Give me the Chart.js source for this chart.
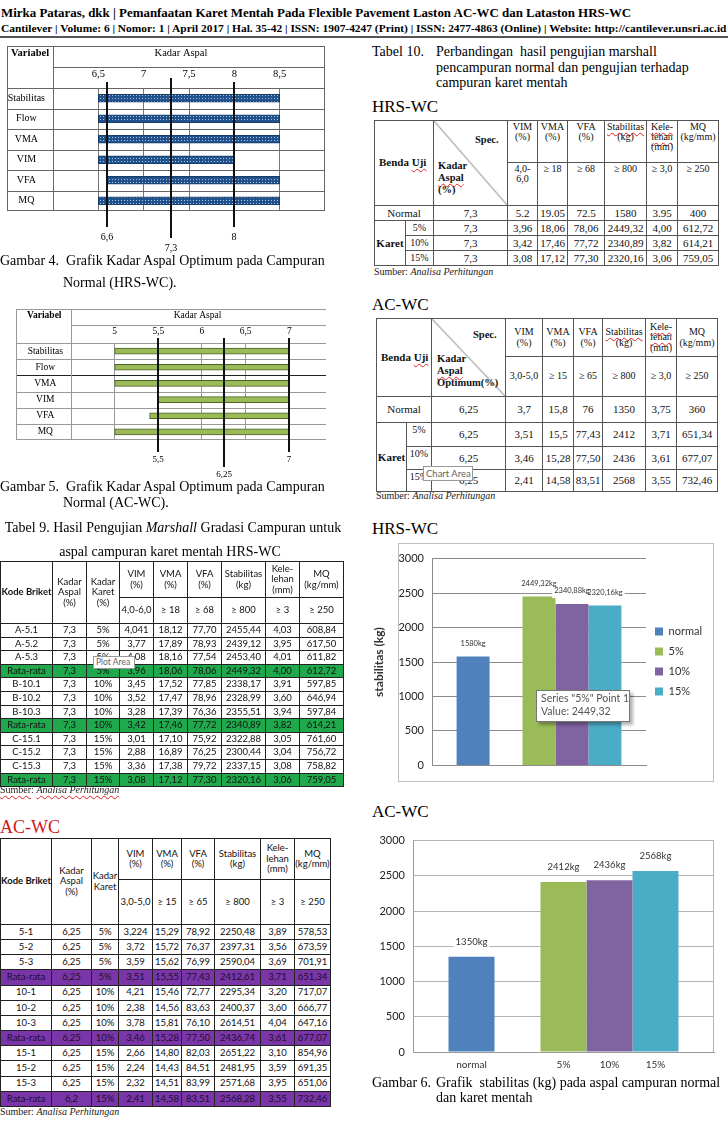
<!DOCTYPE html>
<html>
<head>
<meta charset="utf-8">
<script src="https://cdn.jsdelivr.net/npm/chart.js@4.4.1/dist/chart.umd.min.js"></script>
<style>
  body { margin: 0; background: #fff; }
  #page { position: relative; width: 728px; height: 1140px; overflow: hidden; font-family: "Liberation Serif", "Times New Roman", serif; color: #000; }
  .abs { position: absolute; }
  .txt { position: absolute; white-space: nowrap; }
  .hdr { position: absolute; left: 1px; white-space: nowrap; font-weight: bold; transform-origin: 0 0; line-height: 1; }
  .cap { position: absolute; font-size: 14px; line-height: 16px; white-space: nowrap; }
  .head17 { position: absolute; font-size: 17px; line-height: 18px; white-space: nowrap; }
  .src { position: absolute; font-size: 10px; line-height: 12px; white-space: nowrap; color: #222; }
  .sp { text-decoration: underline wavy #d22; text-decoration-thickness: 1px; text-underline-offset: 2px; }
  canvas { position: absolute; }
  table.t { position: absolute; border-collapse: collapse; table-layout: fixed; }
  table.t td { border: 1px solid #222; padding: 0; text-align: center; vertical-align: middle; overflow: hidden; white-space: nowrap; line-height: 1.1; }
  table.sans { font-family: Lato, "Open Sans", sans-serif; font-size: 9.5px; color: #111; }
  table.serif { font-family: "Liberation Serif", serif; font-size: 11px; color: #111; }
  table.serif td { border-color: #555; }
  table.serif tr.hd td { font-size: 10px; line-height: 1.02; }
  table.t td.b { font-weight: bold; }
  table.t td.tp { vertical-align: top; padding-top: 1px; }
  table.t td.lf { text-align: left; padding-left: 4px; }
  tr.green td { background: #1fa84c; }
  tr.purple td { background: #7a36a8; color: #1a0f2a; }
  .diagcell { background: linear-gradient(to top right, transparent calc(50% - 0.7px), #666 50%, transparent calc(50% + 0.7px)); }
  .note { position: absolute; background: #fff; border: 1px solid #999; font-family: Lato, sans-serif; color: #666; white-space: nowrap; }
</style>
</head>
<body>
<div id="page">
  <div class="hdr" id="h1" style="top:6px;font-size:13px">Mirka Pataras, dkk | Pemanfaatan Karet Mentah Pada Flexible Pavement Laston AC-WC dan Lataston HRS-WC</div>
  <div class="hdr" id="h2" style="top:23px;font-size:11px">Cantilever | Volume: 6 | Nomor: 1 | April 2017 | Hal. 35-42 | ISSN: 1907-4247 (Print) | ISSN: 2477-4863 (Online) | Website: http://cantilever.unsri.ac.id</div>
  <div class="abs" style="left:0;top:36px;width:728px;height:2px;background:#555"></div>

  <!-- left column -->
  <canvas id="g4" width="332" height="212" style="left:0;top:46px"></canvas>
  <div class="cap" style="left:0;top:253px">Gambar 4.&nbsp; Grafik Kadar Aspal Optimum pada Campuran</div>
  <div class="cap" style="left:63px;top:275px">Normal (HRS-WC).</div>

  <canvas id="g5" width="332" height="170" style="left:0;top:309px"></canvas>
  <div class="cap" style="left:0;top:479px">Gambar 5.&nbsp; Grafik Kadar Aspal Optimum pada Campuran</div>
  <div class="cap" style="left:63px;top:495px">Normal (AC-WC).</div>

  <div class="cap" style="left:0;top:520px;width:346px;text-align:center">Tabel 9. Hasil Pengujian <i>Marshall</i> Gradasi Campuran untuk</div>
  <div class="cap" style="left:0;top:544px;width:340px;text-align:center">aspal campuran karet mentah HRS-WC</div>
  <table class="t sans" id="tab9" style="left:0;top:561px;width:343px"></table>
  <div class="src" style="left:0;top:784px"><span class="sp">Sumber</span>: <i class="sp">Analisa Perhitungan</i></div>
  <div class="note" style="left:93px;top:656px;width:38px;height:11px;font-size:8.5px;line-height:11px;padding-left:2px">Plot Area</div>

  <div class="txt" style="left:0;top:818px;font-size:18px;line-height:18px;color:#d01818">AC-WC</div>
  <table class="t sans" id="tabAc" style="left:0;top:838px;width:330px"></table>
  <div class="src" style="left:0;top:1106px">Sumber: <i>Analisa Perhitungan</i></div>

  <!-- right column -->
  <div class="cap" style="left:372px;top:44px">Tabel 10.</div>
  <div class="cap" style="left:436px;top:44px">Perbandingan&nbsp; hasil pengujian marshall</div>
  <div class="cap" style="left:436px;top:60px">pencampuran normal dan pengujian terhadap</div>
  <div class="cap" style="left:436px;top:75px">campuran karet mentah</div>
  <div class="head17" style="left:372px;top:98px">HRS-WC</div>
  <table class="t serif" id="tab10a" style="left:374px;top:120px;width:344px"></table>
  <div class="src" style="left:374px;top:266px">Sumber: <i>Analisa Perhitungan</i></div>

  <div class="head17" style="left:372px;top:296px">AC-WC</div>
  <table class="t serif" id="tab10b" style="left:376px;top:318px;width:341px"></table>
  <div class="src" style="left:376px;top:490px">Sumber: <i>Analisa Perhitungan</i></div>
  <div class="note" style="left:423px;top:466px;width:46px;height:13px;font-size:9.5px;line-height:13px;padding-left:2px">Chart Area</div>

  <div class="head17" style="left:372px;top:520px">HRS-WC</div>
  <div class="abs" style="left:398px;top:543px;width:314px;height:237px;border:1px solid #bfbfbf"></div>
  <canvas id="hrsChart" width="344" height="236" style="left:368px;top:544px"></canvas>
  <div class="note" style="left:536px;top:690px;width:84px;height:28px;font-size:10.5px;line-height:13px;padding:1px 4px;border-color:#777;box-shadow:3px 3px 3px rgba(0,0,0,0.3);color:#555">Series "5%" Point 1<br>Value: 2449,32</div>

  <div class="head17" style="left:372px;top:803px">AC-WC</div>
  <canvas id="acChart" width="358" height="250" style="left:368px;top:826px"></canvas>
  <div class="cap" style="left:372px;top:1075px">Gambar 6.</div>
  <div class="cap" style="left:436px;top:1075px">Grafik&nbsp; stabilitas (kg) pada aspal campuran normal</div>
  <div class="cap" style="left:436px;top:1090px">dan karet mentah</div>
</div>

<script>
// Gambar 4 / 5: acceptable asphalt-content range per variable
const varLabels = ['Stabilitas', 'Flow', 'VMA', 'VIM', 'VFA', 'MQ'];
const hrsRangeMin = [6.5, 6.5, 6.5, 6.5, 6.6, 6.5];
const hrsRangeMax = [8.5, 8.5, 8.5, 8.0, 8.5, 8.5];
const hrsOptimum = [6.6, 7.3, 8];
const acRangeMin = [5, 5, 5, 5.5, 5.4, 5];
const acRangeMax = [7, 7, 7, 7, 7, 7];
const acOptimum = [5.5, 6.25, 7];

// Gambar 6: stability per mix
const stabLabels = ['normal', '5%', '10%', '15%'];
const stabColors = ['#4f81bd', '#9bbb59', '#8064a2', '#4bacc6'];
const hrsStab = [1580, 2449.32, 2340.89, 2320.16];
const hrsStabText = ['1580kg', '2449,32kg', '2340,88kg', '2320,16kg'];
const acStab = [1350, 2412, 2436, 2568];
const acStabText = ['1350kg', '2412kg', '2436kg', '2568kg'];

// Tabel 9 (HRS-WC) and AC-WC specimen results
const hrsBriket = [
  ['A-5.1', '7,3', '5%', '4,041', '18,12', '77,70', '2455,44', '4,03', '608,84'],
  ['A-5.2', '7,3', '5%', '3,77', '17,89', '78,93', '2439,12', '3,95', '617,50'],
  ['A-5.3', '7,3', '5%', '4,08', '18,16', '77,54', '2453,40', '4,01', '611,82'],
  ['Rata-rata', '7,3', '5%', '3,96', '18,06', '78,06', '2449,32', '4,00', '612,72'],
  ['B-10.1', '7,3', '10%', '3,45', '17,52', '77,85', '2338,17', '3,91', '597,85'],
  ['B-10.2', '7,3', '10%', '3,52', '17,47', '78,96', '2328,99', '3,60', '646,94'],
  ['B-10.3', '7,3', '10%', '3,28', '17,39', '76,36', '2355,51', '3,94', '597,84'],
  ['Rata-rata', '7,3', '10%', '3,42', '17,46', '77,72', '2340,89', '3,82', '614,21'],
  ['C-15.1', '7,3', '15%', '3,01', '17,10', '75,92', '2322,88', '3,05', '761,60'],
  ['C-15.2', '7,3', '15%', '2,88', '16,89', '76,25', '2300,44', '3,04', '756,72'],
  ['C-15.3', '7,3', '15%', '3,36', '17,38', '79,72', '2337,15', '3,08', '758,82'],
  ['Rata-rata', '7,3', '15%', '3,08', '17,12', '77,30', '2320,16', '3,06', '759,05']
];
const acBriket = [
  ['5-1', '6,25', '5%', '3,224', '15,29', '78,92', '2250,48', '3,89', '578,53'],
  ['5-2', '6,25', '5%', '3,72', '15,72', '76,37', '2397,31', '3,56', '673,59'],
  ['5-3', '6,25', '5%', '3,59', '15,62', '76,99', '2590,04', '3,69', '701,91'],
  ['Rata-rata', '6,25', '5%', '3,51', '15,55', '77,43', '2412,61', '3,71', '651,34'],
  ['10-1', '6,25', '10%', '4,21', '15,46', '72,77', '2295,34', '3,20', '717,07'],
  ['10-2', '6,25', '10%', '2,38', '14,56', '83,63', '2400,37', '3,60', '666,77'],
  ['10-3', '6,25', '10%', '3,78', '15,81', '76,10', '2614,51', '4,04', '647,16'],
  ['Rata-rata', '6,25', '10%', '3,46', '15,28', '77,50', '2436,74', '3,61', '677,07'],
  ['15-1', '6,25', '15%', '2,66', '14,80', '82,03', '2651,22', '3,10', '854,96'],
  ['15-2', '6,25', '15%', '2,24', '14,43', '84,51', '2481,95', '3,59', '691,35'],
  ['15-3', '6,25', '15%', '2,32', '14,51', '83,99', '2571,68', '3,95', '651,06'],
  ['Rata-rata', '6,2', '15%', '2,41', '14,58', '83,51', '2568,28', '3,55', '732,46']
];

// Tabel 10 comparison
const hrsCompare = [
  ['Normal', '7,3', '5.2', '19.05', '72.5', '1580', '3.95', '400'],
  ['5%', '7,3', '3,96', '18,06', '78,06', '2449,32', '4,00', '612,72'],
  ['10%', '7,3', '3,42', '17,46', '77,72', '2340,89', '3,82', '614,21'],
  ['15%', '7,3', '3,08', '17,12', '77,30', '2320,16', '3,06', '759,05']
];
const acCompare = [
  ['Normal', '6,25', '3,7', '15,8', '76', '1350', '3,75', '360'],
  ['5%', '6,25', '3,51', '15,5', '77,43', '2412', '3,71', '651,34'],
  ['10%', '6,25', '3,46', '15,28', '77,50', '2436', '3,61', '677,07'],
  ['15%', '6,25', '2,41', '14,58', '83,51', '2568', '3,55', '732,46']
];

// fit the running header lines to the page width
function fitText(id, width) {
  const el = document.getElementById(id);
  el.style.transform = `scaleX(${width / el.scrollWidth})`;
}
fitText('h1', 630);
fitText('h2', 725);

// ---------- tables ----------
const cols = widths => '<colgroup>' + widths.map(w => `<col style="width:${w}px">`).join('') + '</colgroup>';

function briketBody(rows, cls, h) {
  return rows.map(r => `<tr class="${r[0] === 'Rata-rata' ? cls : ''}" style="height:${h}px">` +
    r.map(c => `<td>${c}</td>`).join('') + '</tr>').join('');
}

document.getElementById('tab9').innerHTML = cols([52, 34, 33, 34, 34, 34, 44, 34, 44]) +
  `<tr style="height:36px"><td rowspan="2" class="b">Kode Briket</td><td rowspan="2">Kadar<br>Aspal<br>(%)</td><td rowspan="2">Kadar<br>Karet<br>(%)</td>
   <td>VIM<br>(%)</td><td>VMA<br>(%)</td><td>VFA<br>(%)</td><td>Stabilitas<br>(kg)</td><td>Kele-<br>lehan<br>(mm)</td><td>MQ<br>(kg/mm)</td></tr>
   <tr style="height:26px"><td>4,0-6,0</td><td>&ge; 18</td><td>&ge; 68</td><td>&ge; 800</td><td>&ge; 3</td><td>&ge; 250</td></tr>` +
  briketBody(hrsBriket, 'green', 13.6);

document.getElementById('tabAc').innerHTML = cols([51, 40, 27, 34, 29, 33, 46, 34, 36]) +
  `<tr style="height:41px"><td rowspan="2" class="b">Kode Briket</td><td rowspan="2">Kadar<br>Aspal<br>(%)</td><td rowspan="2">Kadar<br>Karet</td>
   <td>VIM<br>(%)</td><td>VMA<br>(%)</td><td>VFA<br>(%)</td><td>Stabilitas<br>(kg)</td><td>Kele-<br>lehan<br>(mm)</td><td>MQ<br>(kg/mm)</td></tr>
   <tr style="height:45px"><td>3,0-5,0</td><td>&ge; 15</td><td>&ge; 65</td><td>&ge; 800</td><td>&ge; 3</td><td>&ge; 250</td></tr>` +
  briketBody(acBriket, 'purple', 15.17);

function compareBody(rows, heights) {
  return rows.map((r, i) => {
    let first = i === 0 ? `<td colspan="2">${r[0]}</td>`
      : (i === 1 ? `<td rowspan="3" class="b">Karet</td>` : '') + `<td class="tp" style="font-size:10px">${r[0]}</td>`;
    return `<tr style="height:${heights[i]}px">` + first + r.slice(1).map(c => `<td>${c}</td>`).join('') + '</tr>';
  }).join('');
}

document.getElementById('tab10a').innerHTML = cols([31, 28, 74, 30, 30, 37, 42, 31, 41]) +
  `<tr class="hd" style="height:42px"><td colspan="2" rowspan="2" class="b lf" style="font-size:11px">Benda <span class="sp">Uji</span></td>
   <td rowspan="2" class="diagcell"><div style="position:relative;height:84px">
     <span style="position:absolute;left:41px;top:14px;font-weight:bold;font-size:10.5px">Spec.</span>
     <span style="position:absolute;left:4px;top:39px;font-weight:bold;font-size:10.5px;line-height:12px;text-align:left">Kadar<br><span class="sp">Aspal</span><br>(%)</span></div></td>
   <td class="tp">VIM<br>(%)</td><td class="tp">VMA<br>(%)</td><td class="tp">VFA<br>(%)</td><td class="tp"><span class="sp">Stabilitas</span><br>(kg)</td>
   <td class="tp"><span class="sp">Kele-</span><br><span class="sp">lehan</span><br>(mm)</td><td class="tp">MQ<br>(kg/mm)</td></tr>
   <tr class="hd" style="height:43px"><td class="tp">4,0-<br>6,0</td><td class="tp">&ge; 18</td><td class="tp">&ge; 68</td><td class="tp">&ge; 800</td><td class="tp">&ge; 3,0</td><td class="tp">&ge; 250</td></tr>` +
  compareBody(hrsCompare, [15, 15, 15, 15]);

document.getElementById('tab10b').innerHTML = cols([30, 25, 74, 37, 31, 29, 43, 31, 41]) +
  `<tr class="hd" style="height:38px"><td colspan="2" rowspan="2" class="b lf" style="font-size:11px">Benda <span class="sp">Uji</span></td>
   <td rowspan="2" class="diagcell"><div style="position:relative;height:77px">
     <span style="position:absolute;left:41px;top:11px;font-weight:bold;font-size:10.5px">Spec.</span>
     <span style="position:absolute;left:5px;top:34px;font-weight:bold;font-size:10.5px;line-height:12px;text-align:left">Kadar<br><span class="sp">Aspal</span><br>Optimum(%)</span></div></td>
   <td>VIM<br>(%)</td><td>VMA<br>(%)</td><td>VFA<br>(%)</td><td><span class="sp">Stabilitas</span><br>(kg)</td>
   <td><span class="sp">Kele-</span><br><span class="sp">lehan</span><br>(mm)</td><td>MQ<br>(kg/mm)</td></tr>
   <tr class="hd" style="height:40px"><td>3,0-5,0</td><td>&ge; 15</td><td>&ge; 65</td><td>&ge; 800</td><td>&ge; 3,0</td><td>&ge; 250</td></tr>` +
  compareBody(acCompare, [26, 24, 23, 22]);

// ---------- Gambar 4 / 5 range charts ----------
const fmt = v => String(v).replace('.', ',');

// draws the table frame around the range chart and the optimum lines
const rangeTable = {
  id: 'rangeTable',
  beforeDatasetsDraw(chart, args, o) {
    const { ctx, chartArea: a, scales: { y } } = chart;
    const left = y.left, top = a.top - o.headH, mid = a.top - o.tickRowH;
    ctx.save();
    ctx.lineWidth = 1;
    const hline = (yy, x0, color) => {
      ctx.strokeStyle = color || o.lineColor;
      ctx.beginPath(); ctx.moveTo(x0, yy); ctx.lineTo(a.right, yy); ctx.stroke();
    };
    const vline = (xx) => {
      ctx.strokeStyle = o.lineColor;
      ctx.beginPath(); ctx.moveTo(xx, top); ctx.lineTo(xx, a.bottom); ctx.stroke();
    };
    hline(Math.round(top) + 0.5, left);
    hline(Math.round(mid) + 0.5, a.left);
    hline(Math.round(a.top) + 0.5, left);
    for (let i = 1; i < y.ticks.length; i++) {
      const yy = Math.round((y.getPixelForTick(i - 1) + y.getPixelForTick(i)) / 2) + 0.5;
      hline(yy, left, i === o.darkRow ? '#222' : null);
    }
    hline(Math.round(a.bottom) - 0.5, left);
    vline(Math.round(left) + 0.5);
    vline(Math.round(a.left) + 0.5);
    if (o.closeRight) vline(Math.round(a.right) - 0.5);

    ctx.fillStyle = '#000';
    ctx.textBaseline = 'top';
    ctx.font = `bold ${o.fontSize}px "Liberation Serif"`;
    ctx.textAlign = 'left';
    ctx.fillText('Variabel', left + o.varPad, top + 2);
    ctx.font = `${o.fontSize}px "Liberation Serif"`;
    ctx.textAlign = 'center';
    ctx.fillText('Kadar Aspal', (a.left + a.right) / 2 + o.titleShift, top + 2);
    ctx.restore();
  },
  afterDatasetsDraw(chart, args, o) {
    const { ctx, chartArea: a, scales: { x } } = chart;
    ctx.save();
    ctx.strokeStyle = '#111';
    ctx.lineWidth = 2;
    ctx.fillStyle = '#000';
    ctx.font = `${o.fontSize - 0.5}px "Liberation Serif"`;
    ctx.textAlign = 'center';
    ctx.textBaseline = 'middle';
    o.optimum.forEach((v, i) => {
      const px = Math.round(x.getPixelForValue(v));
      const long = i === 1;
      const y0 = a.top - (long ? o.lineUpLong : o.lineUp);
      const y1 = a.bottom + (long ? o.longExt : o.shortExt);
      ctx.beginPath(); ctx.moveTo(px, y0); ctx.lineTo(px, y1); ctx.stroke();
      ctx.fillText(fmt(v), px, y1 + o.labelGap);
    });
    ctx.restore();
  }
};

function rangeChart(id, cfg) {
  return new Chart(document.getElementById(id), {
    type: 'bar',
    data: {
      labels: varLabels,
      datasets: [{
        data: cfg.min.map((v, i) => [v, cfg.max[i]]),
        backgroundColor: cfg.fill,
        borderColor: cfg.border,
        borderWidth: 1,
        borderSkipped: false,
        barThickness: cfg.barH
      }]
    },
    options: {
      indexAxis: 'y',
      responsive: false,
      animation: false,
      devicePixelRatio: 1,
      layout: { padding: cfg.pad },
      plugins: {
        legend: { display: false },
        tooltip: { enabled: false },
        rangeTable: cfg.table
      },
      scales: {
        x: {
          position: 'top',
          min: cfg.xMin,
          max: cfg.xMax,
          afterFit: s => { s.height = cfg.table.tickRowH; },
          ticks: {
            stepSize: 0.5, autoSkip: false, maxRotation: 0, padding: cfg.tickPad,
            color: '#000', font: { family: 'Liberation Serif', size: cfg.table.fontSize },
            callback: v => (v >= cfg.lo && v <= cfg.hi) ? fmt(v) : ''
          },
          grid: {
            drawTicks: false,
            color: c => (c.tick && c.tick.value >= cfg.lo && c.tick.value <= cfg.hi) ? cfg.gridColor : 'rgba(0,0,0,0)'
          },
          border: { display: false }
        },
        y: {
          afterFit: s => { s.width = cfg.labelColW; },
          ticks: { crossAlign: 'center', padding: 0, color: '#000', font: { family: 'Liberation Serif', size: cfg.labelSize } },
          grid: { display: false },
          border: { display: false }
        }
      }
    },
    plugins: [rangeTable]
  });
}

function dotPattern(canvasId) {
  const c = document.createElement('canvas');
  c.width = 3; c.height = 3;
  const g = c.getContext('2d');
  g.fillStyle = '#22528c'; g.fillRect(0, 0, 3, 3);
  g.fillStyle = '#a7c3e6'; g.fillRect(1, 1, 1, 1);
  return document.getElementById(canvasId).getContext('2d').createPattern(c, 'repeat');
}

rangeChart('g4', {
  min: hrsRangeMin, max: hrsRangeMax, xMin: 6, xMax: 9, lo: 6.5, hi: 8.5,
  fill: dotPattern('g4'), border: '#173d6b', barH: 8,
  pad: { left: 7, top: 21, right: 3, bottom: 47 },
  labelColW: 46, labelSize: 10, tickPad: 7, gridColor: '#777',
  table: {
    headH: 42, tickRowH: 21, lineColor: '#666', fontSize: 10.5, varPad: 4, titleShift: -8,
    closeRight: true, darkRow: -1, optimum: hrsOptimum,
    lineUp: 6, lineUpLong: 10, shortExt: 16, longExt: 27, labelGap: 10
  }
});

rangeChart('g5', {
  min: acRangeMin, max: acRangeMax, xMin: 4.5, xMax: 7.42, lo: 5, hi: 7,
  fill: '#9bbb59', border: '#4f6228', barH: 6,
  pad: { left: 16, top: 16, right: 2, bottom: 39 },
  labelColW: 55, labelSize: 9.5, tickPad: 6, gridColor: '#999',
  table: {
    headH: 34, tickRowH: 18, lineColor: '#999', fontSize: 9.5, varPad: 11, titleShift: -1,
    closeRight: false, darkRow: 2, optimum: acOptimum,
    lineUp: 5, lineUpLong: 5, shortExt: 12, longExt: 27, labelGap: 8
  }
});

// ---------- Gambar 6 stability charts ----------
const barText = {
  id: 'barText',
  afterDatasetsDraw(chart, args, o) {
    const { ctx, chartArea: a } = chart;
    const items = [];
    chart.data.datasets.forEach((ds, i) => {
      if (ds.text) items.push({ ds, bar: chart.getDatasetMeta(i).data[0] });
    });
    ctx.save();
    ctx.textAlign = 'center';
    ctx.textBaseline = 'middle';
    ctx.font = `${o.size}px Lato`;
    // white boxes first so neighbouring labels do not hide each other
    ctx.fillStyle = '#fff';
    items.forEach(({ ds, bar }) => {
      const w = ctx.measureText(ds.text).width;
      ctx.fillRect(bar.x - w / 2 - o.pad, bar.y - o.gap - 7, w + 2 * o.pad, 14);
    });
    ctx.fillStyle = '#333';
    items.forEach(({ ds, bar }) => ctx.fillText(ds.text, bar.x, bar.y - o.gap));
    if (o.axisLabels) {
      ctx.font = '10px Lato';
      items.forEach(({ ds, bar }) => ctx.fillText(ds.label, bar.x, a.bottom + 13));
    }
    if (o.rightBorder) {
      ctx.strokeStyle = o.borderColor;
      ctx.lineWidth = 1;
      ctx.beginPath();
      ctx.moveTo(Math.round(a.right) - 0.5, a.top);
      ctx.lineTo(Math.round(a.right) - 0.5, a.bottom);
      ctx.stroke();
    }
    ctx.restore();
  }
};

function stabChart(id, values, texts, cfg) {
  const datasets = values.map((v, i) => ({
    label: stabLabels[i], text: texts[i], data: [v],
    backgroundColor: stabColors[i], categoryPercentage: cfg.groupWidth, barPercentage: 1
  }));
  // empty slot between the normal bar and the rubber mixes
  datasets.splice(1, 0, { label: '', data: [null], backgroundColor: 'rgba(0,0,0,0)', categoryPercentage: cfg.groupWidth, barPercentage: 1 });

  return new Chart(document.getElementById(id), {
    type: 'bar',
    data: { labels: [''], datasets },
    options: {
      responsive: false,
      animation: false,
      devicePixelRatio: 1,
      layout: { padding: cfg.pad },
      plugins: {
        legend: cfg.legend ? {
          position: 'right',
          labels: {
            boxWidth: 8, boxHeight: 8, padding: 9, color: '#333',
            font: { family: 'Lato', size: 11 },
            filter: item => item.text !== ''
          }
        } : { display: false },
        tooltip: { enabled: false },
        barText: { size: cfg.labelSize, gap: cfg.labelGap, pad: 2, axisLabels: !cfg.legend, rightBorder: !cfg.legend, borderColor: cfg.gridColor }
      },
      scales: {
        x: {
          afterFit: s => { s.height = 0; },
          ticks: { display: false },
          grid: { display: false },
          border: { color: cfg.axisColor }
        },
        y: {
          min: 0, max: 3000,
          afterFit: s => { s.width = cfg.axisW; },
          ticks: { stepSize: 500, padding: 8, color: '#222', font: { family: 'Lato', size: 11 }, callback: v => String(v) },
          grid: { drawTicks: false, color: cfg.gridColor },
          border: { color: cfg.axisColor },
          title: cfg.title ? {
            display: true, text: cfg.title, color: '#333', padding: { top: 4, bottom: 0 },
            font: { family: 'Lato', size: 12, weight: 'bold' }
          } : { display: false }
        }
      }
    },
    plugins: [barText]
  });
}

stabChart('hrsChart', hrsStab, hrsStabText, {
  groupWidth: 0.77, legend: true, title: 'stabilitas (kg)',
  pad: { left: 0, top: 11, right: 0, bottom: 12 },
  axisW: 64, gridColor: '#8c8c8c', axisColor: '#8c8c8c', labelSize: 7.5, labelGap: 13
});

stabChart('acChart', acStab, acStabText, {
  groupWidth: 0.764, legend: false, title: null,
  pad: { left: 0, top: 9, right: 12, bottom: 24 },
  axisW: 45, gridColor: '#b5b5b5', axisColor: '#9a9a9a', labelSize: 9.5, labelGap: 15
});
</script>
</body>
</html>
